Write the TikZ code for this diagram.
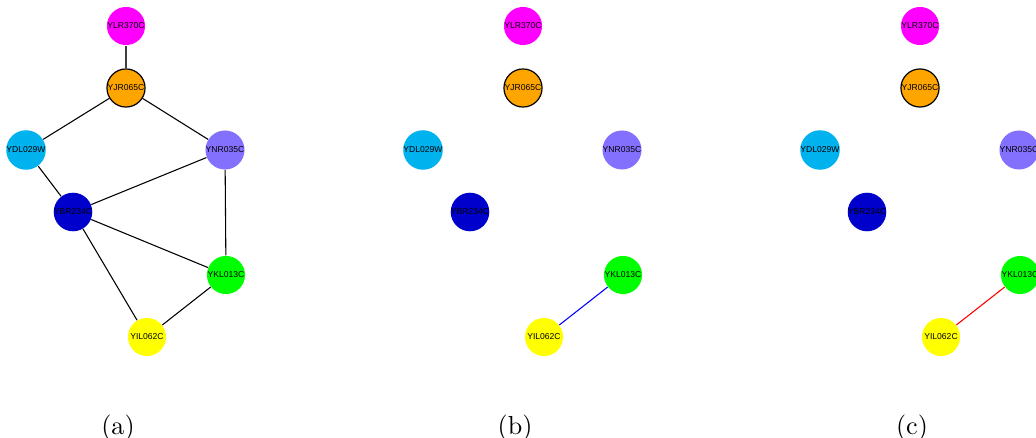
\documentclass[tikz,border=0pt]{standalone}
\usepackage{fontspec}
\newfontfamily\genefont{Liberation Sans}
\usetikzlibrary{positioning}

\definecolor{genemagenta}{RGB}{255,0,255}
\definecolor{geneorange}{RGB}{255,165,0}
\definecolor{genesky}{RGB}{0,178,238}
\definecolor{geneslate}{RGB}{132,112,255}
\definecolor{genenavy}{RGB}{0,0,205}
\definecolor{genegreen}{RGB}{0,255,0}
\definecolor{geneyellow}{RGB}{255,255,0}

\begin{document}
\begin{tikzpicture}[
	x=0.42pt, y=-0.42pt,
	gene/.style={circle, minimum size=16pt, inner sep=0pt, font=\genefont\fontsize{3.6}{4}\selectfont},
	link/.style={line width=0.45pt},
	panel/.style={font=\fontsize{10.95}{13}\selectfont}
	]

\useasboundingbox (0,0) rectangle (1036,438);

% Panel (a)
\node [gene, fill=genemagenta] (YLR370C) at (126,26) {YLR370C};
\node [gene, fill=geneorange, draw=black, line width=0.5pt] (YJR065C) at (126,88) {YJR065C};
\node [gene, fill=genesky] (YDL029W) at (26,150) {YDL029W};
\node [gene, fill=geneslate] (YNR035C) at (225,150) {YNR035C};
\node [gene, fill=genenavy] (YBR234C) at (73,212) {YBR234C};
\node [gene, fill=genegreen] (YKL013C) at (226,275) {YKL013C};
\node [gene, fill=geneyellow] (YIL062C) at (147,337) {YIL062C};

\draw [link, black!75] (YLR370C) -- (YJR065C);
\draw [link] (YJR065C) -- (YDL029W);
\draw [link] (YJR065C) -- (YNR035C);
\draw [link] (YDL029W) -- (YBR234C);
\draw [link] (YBR234C) -- (YNR035C);
\draw [link] (YNR035C) -- (YKL013C);
\draw [link] (YBR234C) -- (YKL013C);
\draw [link] (YBR234C) -- (YIL062C);
\draw [link] (YKL013C) -- (YIL062C);

\node [panel] (capa) at (118,428) {(a)};

% Panel (b)
\node [gene, fill=genemagenta] (YLR370Cb) at (523,26) {YLR370C};
\node [gene, fill=geneorange, draw=black, line width=0.5pt] (YJR065Cb) at (523,88) {YJR065C};
\node [gene, fill=genesky] (YDL029Wb) at (423,150) {YDL029W};
\node [gene, fill=geneslate] (YNR035Cb) at (622,150) {YNR035C};
\node [gene, fill=genenavy] (YBR234Cb) at (470,212) {YBR234C};
\node [gene, fill=genegreen] (YKL013Cb) at (623,275) {YKL013C};
\node [gene, fill=geneyellow] (YIL062Cb) at (544,337) {YIL062C};

\draw [link, blue] (YKL013Cb) -- (YIL062Cb);

\node [panel] (capb) at (515,428) {(b)};

% Panel (c)
\node [gene, fill=genemagenta] (YLR370Cc) at (920,26) {YLR370C};
\node [gene, fill=geneorange, draw=black, line width=0.5pt] (YJR065Cc) at (920,88) {YJR065C};
\node [gene, fill=genesky] (YDL029Wc) at (820,150) {YDL029W};
\node [gene, fill=geneslate] (YNR035Cc) at (1019,150) {YNR035C};
\node [gene, fill=genenavy] (YBR234Cc) at (867,212) {YBR234C};
\node [gene, fill=genegreen] (YKL013Cc) at (1020,275) {YKL013C};
\node [gene, fill=geneyellow] (YIL062Cc) at (941,337) {YIL062C};

\draw [link, red] (YKL013Cc) -- (YIL062Cc);

\node [panel] (capc) at (912,428) {(c)};

\end{tikzpicture}
\end{document}
